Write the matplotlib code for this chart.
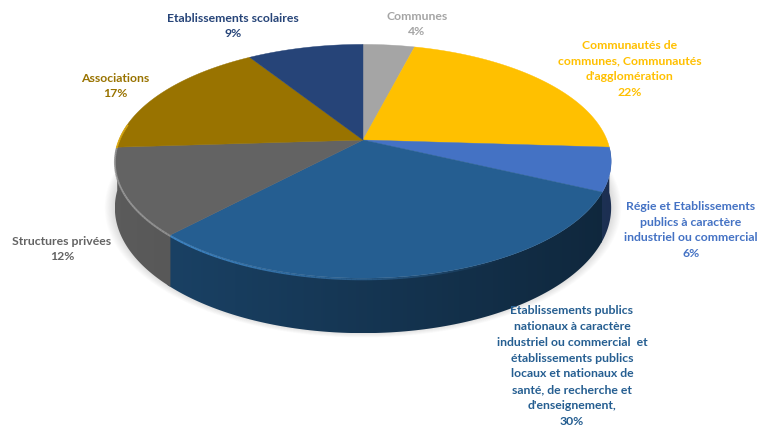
import matplotlib
matplotlib.use("Agg")
import matplotlib.pyplot as plt
import numpy as np
from matplotlib.colors import to_rgb
from matplotlib.patches import Polygon

# Shares, clockwise from 12 o'clock
shares = [4, 22, 6, 30, 12, 17, 9]
names = [
    "Communes",
    "Communautés de\ncommunes, Communautés\nd'agglomération",
    "Régie et Etablissements\npublics à caractère\nindustriel ou commercial",
    "Etablissements publics\nnationaux à caractère\nindustriel ou commercial  et\nétablissements publics\nlocaux et nationaux de\nsanté, de recherche et\nd'enseignement,",
    "Structures privées",
    "Associations",
    "Etablissements scolaires",
]
colors = ["#A5A5A5", "#FFC000", "#4472C4", "#255E91", "#636363", "#997300", "#264478"]
label_xy = [(417, 24), (630, 69), (691, 230), (572, 366), (62, 249), (115, 86), (233, 26)]

# pie geometry in pixels, with a perspective tilt
cx, cy = 363, 140
rx, ry = 244, 113
tilt = 0.182
depth = 45


def project(theta, offset=0.0, scale=1.0):
    s, c = np.sin(theta), np.cos(theta)
    d = 1 + tilt * c
    return cx + scale * rx * s / d, cy + (offset - scale * ry * c) / d


fig = plt.figure(figsize=(7.71, 4.28), dpi=100)
ax = fig.add_axes([0, 0, 1, 1])
ax.axis("off")

edges = np.radians(np.cumsum([0] + shares) * 3.6)
ring = np.linspace(0, 2 * np.pi, 361)

# soft shadow under the body
for i in range(12):
    sx, sy = project(ring, depth - 1, 1.002 + 0.0035 * i)
    ax.fill(sx, sy, color="#707070", alpha=0.02, lw=0, zorder=1)

# side wall: horizontal gradient clipped to each slice's outline
# each slice runs a little under the next one so no seam shows
for k in range(len(shares)):
    # slices at the back have no wall worth drawing
    if np.cos((edges[k] + edges[k + 1]) / 2) > 0:
        continue
    t = np.linspace(edges[k], edges[k + 1] + np.radians(1.0), 120)
    tx, ty = project(t)
    bx, by = project(t, depth)
    outline = np.c_[np.r_[tx, bx[::-1]], np.r_[ty, by[::-1]]]
    poly = Polygon(outline, closed=True, transform=ax.transData, fc="none", ec="none")
    ax.add_patch(poly)
    x0, x1 = outline[:, 0].min(), outline[:, 0].max()
    y0, y1 = outline[:, 1].min(), outline[:, 1].max()
    u = np.linspace(x0, x1, 200)
    shade = 0.57 - 0.15 * (u - cx) / rx
    if k == 4:
        shade = shade + 0.2
    grad = np.clip(np.outer(shade, to_rgb(colors[k])), 0, 1)[np.newaxis, :, :]
    im = ax.imshow(grad, extent=[x0, x1, y1, y0], aspect="auto", interpolation="bilinear", zorder=2 + k * 0.01)
    im.set_clip_path(poly)

ax.set_xlim(0, 771)
ax.set_ylim(428, 0)

# top face
for k in range(len(shares)):
    t = np.linspace(edges[k], edges[k + 1], 120)
    x, y = project(t)
    ax.fill(np.r_[cx, x], np.r_[cy, y], color=colors[k], lw=0.3, zorder=3)

# light bevel on the front edge, fading to the right
for k in range(len(shares)):
    t = np.arange(edges[k], edges[k + 1], np.radians(1.0))
    t = np.append(t, edges[k + 1])
    base = np.array(to_rgb(colors[k]))
    for a, b in zip(t[:-1], t[1:]):
        m = (a + b) / 2
        glow = np.clip(-np.cos(m) * 0.3 - np.sin(m) * 0.75 + 0.1, 0, 1)
        if glow > 0 and np.cos(m) < 0.15:
            x, y = project(np.array([a, b]), 1.0)
            ax.plot(x, y, color=np.minimum(base * 1.35 + 0.08, 1), alpha=glow,
                    lw=1.3, solid_capstyle="butt", zorder=4)

for name, share, col, (lx, ly) in zip(names, shares, colors, label_xy):
    ax.text(lx, ly, f"{name}\n{share}%", color=col, ha="center", va="center",
            family="Lato", fontweight="bold", fontsize=8.85, linespacing=1.53, zorder=5)

fig.savefig("out.png", dpi=100)
